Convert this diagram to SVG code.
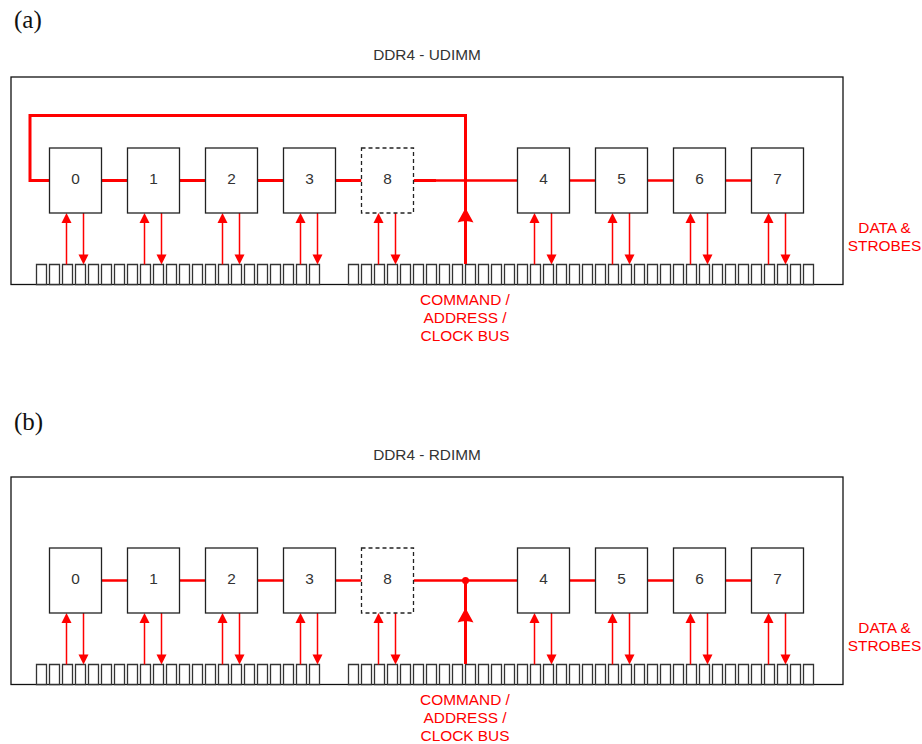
<svg xmlns="http://www.w3.org/2000/svg" xmlns:xlink="http://www.w3.org/1999/xlink" width="922" height="744" viewBox="0 0 922 744">
<defs>
<style>
text{font-family:"Liberation Sans",Arial,sans-serif;font-size:15.400px;text-anchor:middle;fill:#333}
.cap{font-family:"Liberation Serif","Times New Roman",serif;font-size:25px;text-anchor:start;fill:#111}
.red{fill:#f00}
.chip{fill:#fff;stroke:#222;stroke-width:1.3}
.dash{stroke-dasharray:4 3}
.frame{fill:#fff;stroke:#111;stroke-width:1.3}
.pins{fill:#fff;stroke:#333;stroke-width:1.3}
.w1{fill:none;stroke:#f00;stroke-width:1.5}
.w2{fill:none;stroke:#f00;stroke-width:2.500}
.w3{fill:none;stroke:#f00;stroke-width:3}
.head{fill:#f00}
</style>
<path id="up" class="head" d="M0 0L5 10H-5Z"/>
<path id="down" class="head" d="M0 0L5 -10H-5Z"/>
<path id="bighead" class="head" d="M0 0L8 14.500Q0 11.500 -8 14.500Z"/>
<path id="pinrow" class="pins" d="M36.500 264.500h10v20h-10zM49.500 264.500h10v20h-10zM62.500 264.500h10v20h-10zM75.500 264.500h10v20h-10zM88.500 264.500h10v20h-10zM101.500 264.500h10v20h-10zM114.500 264.500h10v20h-10zM127.500 264.500h10v20h-10zM140.500 264.500h10v20h-10zM153.500 264.500h10v20h-10zM166.500 264.500h10v20h-10zM179.500 264.500h10v20h-10zM192.500 264.500h10v20h-10zM205.500 264.500h10v20h-10zM218.500 264.500h10v20h-10zM231.500 264.500h10v20h-10zM244.500 264.500h10v20h-10zM257.500 264.500h10v20h-10zM270.500 264.500h10v20h-10zM283.500 264.500h10v20h-10zM296.500 264.500h10v20h-10zM309.500 264.500h10v20h-10zM348.500 264.500h10v20h-10zM361.500 264.500h10v20h-10zM374.500 264.500h10v20h-10zM387.500 264.500h10v20h-10zM400.500 264.500h10v20h-10zM413.500 264.500h10v20h-10zM426.500 264.500h10v20h-10zM439.500 264.500h10v20h-10zM452.500 264.500h10v20h-10zM465.500 264.500h10v20h-10zM478.500 264.500h10v20h-10zM491.500 264.500h10v20h-10zM504.500 264.500h10v20h-10zM517.500 264.500h10v20h-10zM530.500 264.500h10v20h-10zM543.500 264.500h10v20h-10zM556.500 264.500h10v20h-10zM569.500 264.500h10v20h-10zM582.500 264.500h10v20h-10zM595.500 264.500h10v20h-10zM608.500 264.500h10v20h-10zM621.500 264.500h10v20h-10zM634.500 264.500h10v20h-10zM647.500 264.500h10v20h-10zM660.500 264.500h10v20h-10zM673.500 264.500h10v20h-10zM686.500 264.500h10v20h-10zM699.500 264.500h10v20h-10zM712.500 264.500h10v20h-10zM725.500 264.500h10v20h-10zM738.500 264.500h10v20h-10zM751.500 264.500h10v20h-10zM764.500 264.500h10v20h-10zM777.500 264.500h10v20h-10zM790.500 264.500h10v20h-10zM803.500 264.500h10v20h-10z"/>
<g id="dq">
<path class="w1" d="M0 264.500V218M17 213V256"/>
<use href="#up" x="0" y="213"/><use href="#down" x="17" y="264.500"/>
</g>
</defs>
<rect width="922" height="744" fill="#fff"/>

<g id="panel-a">
<text class="cap" x="14" y="28">(a)</text>
<text x="427" y="60">DDR4 - UDIMM</text>
<rect id="frame-a" class="frame" x="11" y="77" width="832" height="207.500"/>
<use id="pins-a" href="#pinrow"/>
<g id="connectors-a">
<path class="w3" d="M49.500 180.500H30V115.500H465.500V264M101.500 180.500H127.500M179.500 180.500H205.500M257.500 180.500H283.500M335.500 180.500H361.500M413.500 180.500H436"/>
<path class="w2" d="M436 180.500H517.500M569.500 180.500H595.500M647.500 180.500H673.500M725.500 180.500H751.500"/>
<use href="#bighead" x="465.500" y="208"/>
<use href="#dq" x="66.500"/><use href="#dq" x="144.500"/><use href="#dq" x="222.500"/><use href="#dq" x="300.500"/><use href="#dq" x="378.500"/><use href="#dq" x="534.500"/><use href="#dq" x="612.500"/><use href="#dq" x="690.500"/><use href="#dq" x="768.500"/>
</g>
<g id="a-0"><rect class="chip" x="49.500" y="148" width="52" height="65"/><text x="75.500" y="184">0</text></g>
<g id="a-1"><rect class="chip" x="127.500" y="148" width="52" height="65"/><text x="153.500" y="184">1</text></g>
<g id="a-2"><rect class="chip" x="205.500" y="148" width="52" height="65"/><text x="231.500" y="184">2</text></g>
<g id="a-3"><rect class="chip" x="283.500" y="148" width="52" height="65"/><text x="309.500" y="184">3</text></g>
<g id="a-8"><rect class="chip dash" x="361.500" y="148" width="52" height="65"/><text x="387.500" y="184">8</text></g>
<g id="a-4"><rect class="chip" x="517.500" y="148" width="52" height="65"/><text x="543.500" y="184">4</text></g>
<g id="a-5"><rect class="chip" x="595.500" y="148" width="52" height="65"/><text x="621.500" y="184">5</text></g>
<g id="a-6"><rect class="chip" x="673.500" y="148" width="52" height="65"/><text x="699.500" y="184">6</text></g>
<g id="a-7"><rect class="chip" x="751.500" y="148" width="52" height="65"/><text x="777.500" y="184">7</text></g>
<text class="red" x="465" y="305">COMMAND /</text>
<text class="red" x="465" y="323">ADDRESS /</text>
<text class="red" x="465" y="341">CLOCK BUS</text>
<text class="red" x="884.500" y="233">DATA &amp;</text>
<text class="red" x="884.500" y="251">STROBES</text>
</g>

<g id="panel-b">
<text class="cap" x="14" y="430">(b)</text>
<text x="427" y="460">DDR4 - RDIMM</text>
<rect id="frame-b" class="frame" x="11" y="477" width="832" height="207.500"/>
<use id="pins-b" href="#pinrow" y="400"/>
<g id="connectors-b">
<path class="w2" d="M101.500 580.500H127.500M179.500 580.500H205.500M257.500 580.500H283.500M335.500 580.500H361.500M413.500 580.500H517.500M569.500 580.500H595.500M647.500 580.500H673.500M725.500 580.500H751.500"/>
<path class="w3" d="M465.500 580.500V664"/>
<circle class="head" cx="465.500" cy="580.500" r="3.500"/>
<use href="#bighead" x="465.500" y="608"/>
<g transform="translate(0 400)"><use href="#dq" x="66.500"/><use href="#dq" x="144.500"/><use href="#dq" x="222.500"/><use href="#dq" x="300.500"/><use href="#dq" x="378.500"/><use href="#dq" x="534.500"/><use href="#dq" x="612.500"/><use href="#dq" x="690.500"/><use href="#dq" x="768.500"/></g>
</g>
<g id="b-0"><rect class="chip" x="49.500" y="548" width="52" height="65"/><text x="75.500" y="584">0</text></g>
<g id="b-1"><rect class="chip" x="127.500" y="548" width="52" height="65"/><text x="153.500" y="584">1</text></g>
<g id="b-2"><rect class="chip" x="205.500" y="548" width="52" height="65"/><text x="231.500" y="584">2</text></g>
<g id="b-3"><rect class="chip" x="283.500" y="548" width="52" height="65"/><text x="309.500" y="584">3</text></g>
<g id="b-8"><rect class="chip dash" x="361.500" y="548" width="52" height="65"/><text x="387.500" y="584">8</text></g>
<g id="b-4"><rect class="chip" x="517.500" y="548" width="52" height="65"/><text x="543.500" y="584">4</text></g>
<g id="b-5"><rect class="chip" x="595.500" y="548" width="52" height="65"/><text x="621.500" y="584">5</text></g>
<g id="b-6"><rect class="chip" x="673.500" y="548" width="52" height="65"/><text x="699.500" y="584">6</text></g>
<g id="b-7"><rect class="chip" x="751.500" y="548" width="52" height="65"/><text x="777.500" y="584">7</text></g>
<text class="red" x="465" y="705">COMMAND /</text>
<text class="red" x="465" y="723">ADDRESS /</text>
<text class="red" x="465" y="741">CLOCK BUS</text>
<text class="red" x="884.500" y="633">DATA &amp;</text>
<text class="red" x="884.500" y="651">STROBES</text>
</g>
</svg>
